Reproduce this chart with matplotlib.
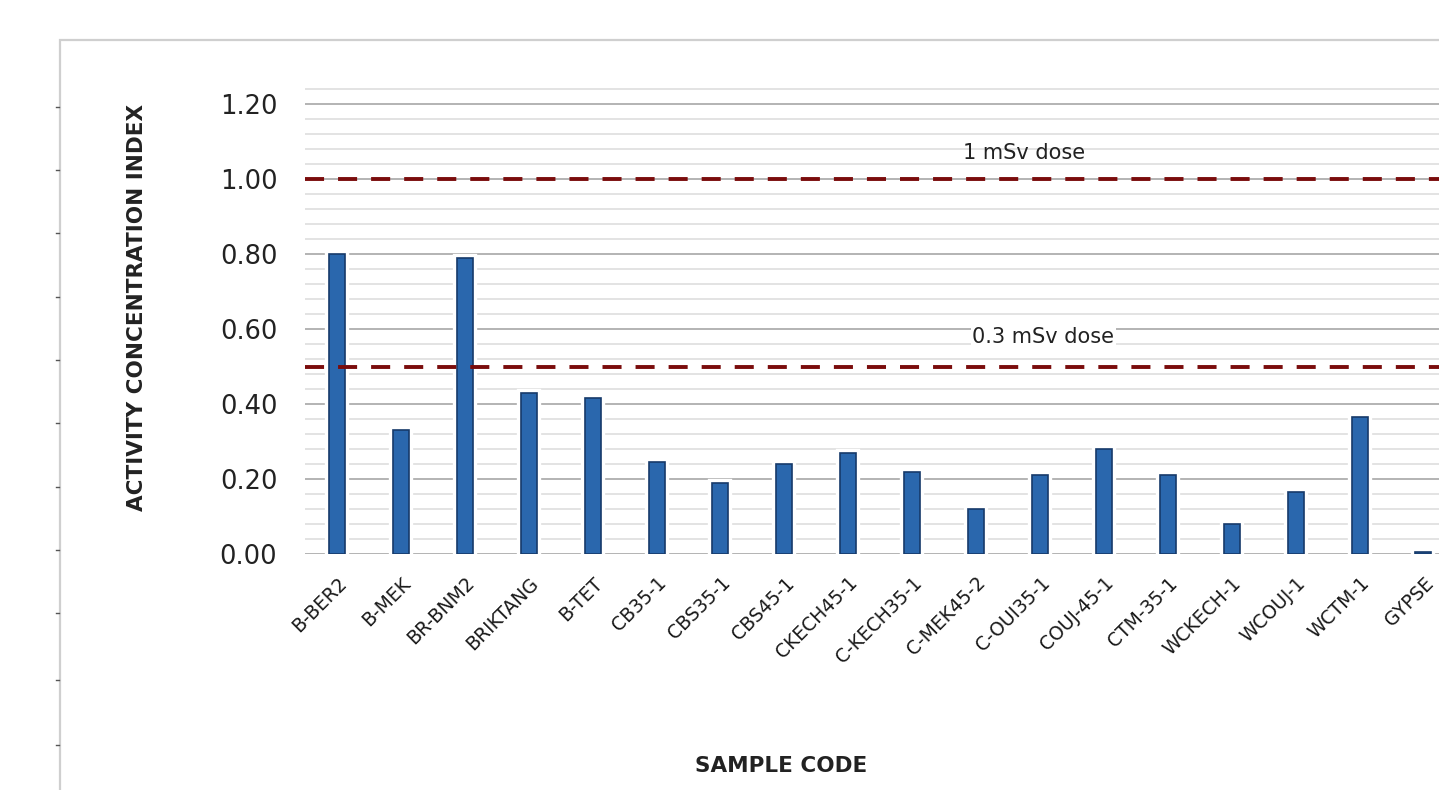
import matplotlib
matplotlib.use("Agg")
import matplotlib.pyplot as plt
import matplotlib.patheffects as pe
from matplotlib.ticker import MultipleLocator, FormatStrFormatter
from matplotlib.lines import Line2D
from matplotlib.patches import Rectangle

samples = ["B-BER2", "B-MEK", "BR-BNM2", "BRIKTANG", "B-TET", "CB35-1",
           "CBS35-1", "CBS45-1", "CKECH45-1", "C-KECH35-1", "C-MEK45-2",
           "C-OUI35-1", "COUJ-45-1", "CTM-35-1", "WCKECH-1", "WCOUJ-1",
           "WCTM-1", "GYPSE"]
index = [0.80, 0.33, 0.79, 0.43, 0.415, 0.245, 0.19, 0.24, 0.27, 0.22,
         0.12, 0.21, 0.28, 0.21, 0.08, 0.165, 0.365, 0.005]

limit_values = [1.0, 0.5]
limit_labels = ["1 mSv dose", "0.3 mSv dose"]

fig = plt.figure(figsize=(14.39, 7.90), dpi=100)
ax = fig.add_axes([0.212, 0.2987, 0.7994, 0.591])

# рамка страницы и засечки слева
fig.add_artist(Rectangle((0.0417, -0.1), 2, 1.049, transform=fig.transFigure,
                         fill=False, edgecolor="#cfcfcf", linewidth=1.6))
for yy in [107, 170, 233, 297, 360, 423, 487, 550, 613, 680, 745]:
    fig.add_artist(Line2D([0.0389, 0.0410], [1 - yy / 790, 1 - yy / 790],
                          transform=fig.transFigure, color="#555555", lw=1))

x = range(len(samples))
ax.bar(x, index, width=0.25, color="#2a67ad", edgecolor="#163a6a",
       linewidth=1.2, zorder=3,
       path_effects=[pe.Stroke(linewidth=6, foreground="white"), pe.Normal()])

for v in limit_values:
    ax.axhline(v, color="#7a0c0c", linestyle=(0, (4.9, 3.6)), linewidth=2.8,
               zorder=4)

ax.text(10.75, 1.07, limit_labels[0], ha="center", va="center", fontsize=15,
        color="#222222", zorder=5)
ax.text(11.05, 0.58, limit_labels[1], ha="center", va="center", fontsize=15,
        color="#222222", zorder=5,
        bbox=dict(facecolor="white", edgecolor="none", pad=1))

ax.set_xlim(-0.5, len(samples) - 0.5)
ax.set_ylim(0, 1.245)
ax.yaxis.set_major_locator(MultipleLocator(0.2))
ax.yaxis.set_minor_locator(MultipleLocator(0.04))
ax.yaxis.set_major_formatter(FormatStrFormatter("%.2f"))
ax.grid(axis="y", which="major", color="#b3b3b3", linewidth=1.4, zorder=0)
ax.grid(axis="y", which="minor", color="#e3e3e3", linewidth=1.4, zorder=0)
ax.set_axisbelow(True)
for s in ax.spines.values():
    s.set_visible(False)

ax.set_xticks(list(x))
ax.set_xticklabels(samples, rotation=45, ha="right", rotation_mode="anchor",
                   fontsize=13.5, color="#1a1a1a")
ax.tick_params(axis="x", length=0, pad=14)
ax.tick_params(axis="y", which="both", length=0, pad=20, labelsize=18.5,
               labelcolor="#222222")

fig.text(0.095, 0.611, "ACTIVITY CONCENTRATION INDEX", rotation=90,
         ha="center", va="center", fontsize=15.5, fontweight="bold",
         color="#222222")
fig.text(0.543, 0.031, "SAMPLE CODE", ha="center", va="center", fontsize=15.5,
         fontweight="bold", color="#222222")

fig.savefig("out.png", dpi=100)
